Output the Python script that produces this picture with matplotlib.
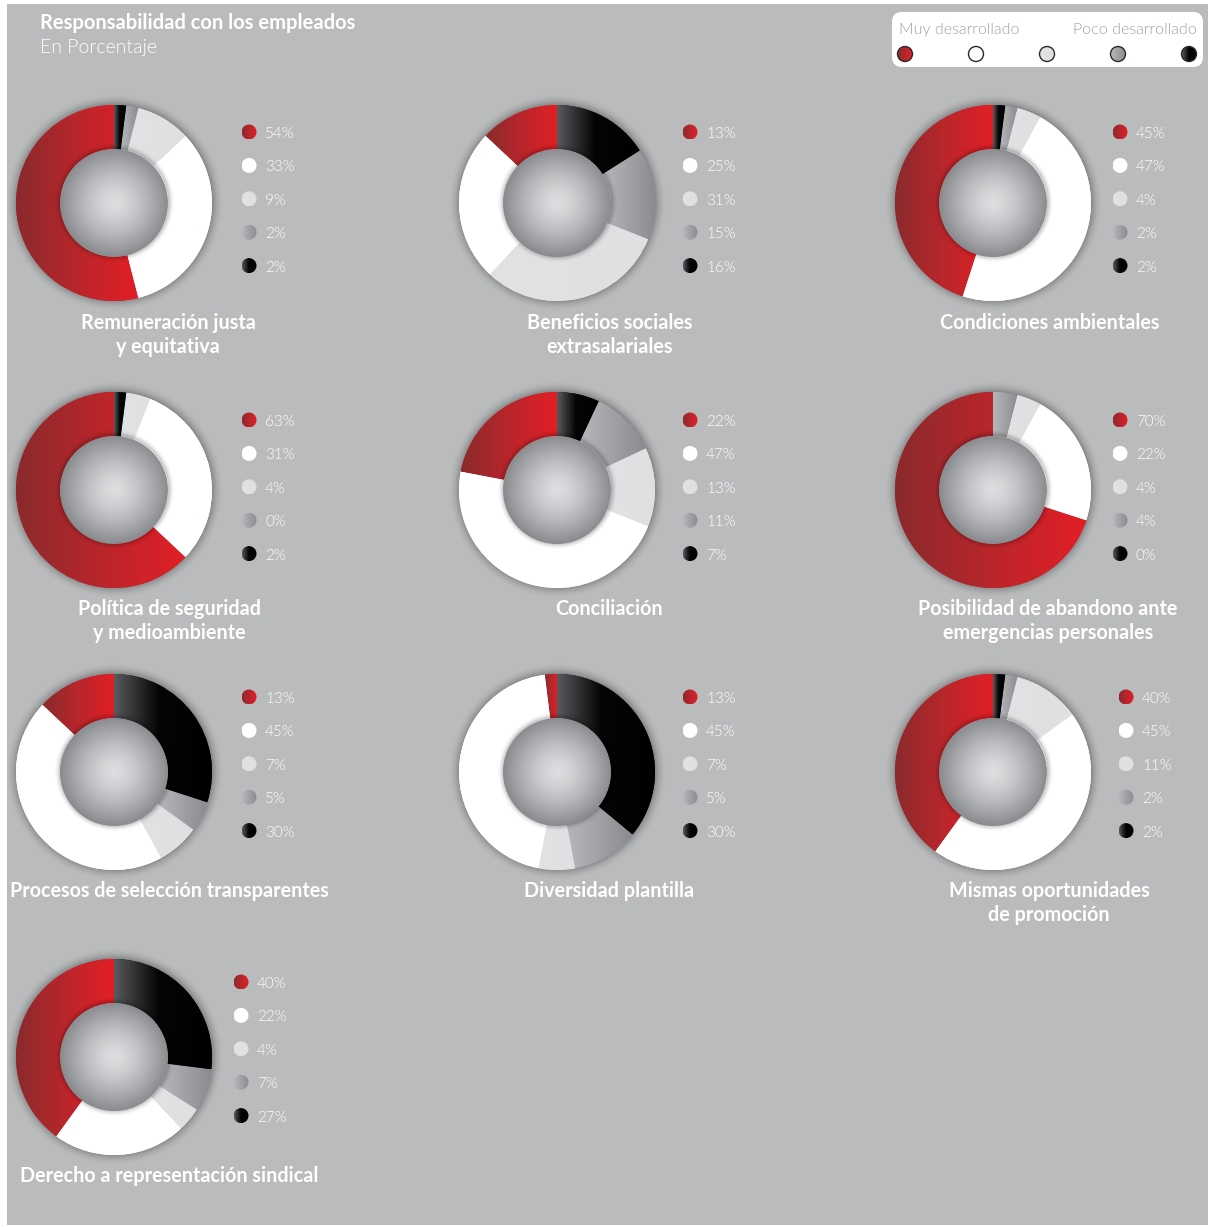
import numpy as np
import matplotlib
matplotlib.use("Agg")
import matplotlib.pyplot as plt
from matplotlib.colors import LinearSegmentedColormap
from matplotlib.patches import Circle, FancyBboxPatch, Rectangle

plt.rcParams['font.family'] = ['Lato', 'DejaVu Sans']

# ---------------- data ----------------
title = "Responsabilidad con los empleados"
subtitle = "En Porcentaje"
level_low = "Muy desarrollado"
level_high = "Poco desarrollado"

categories = [
    "Remuneración justa\ny equitativa",
    "Beneficios sociales\nextrasalariales",
    "Condiciones ambientales",
    "Política de seguridad\ny medioambiente",
    "Conciliación",
    "Posibilidad de abandono ante\nemergencias personales",
    "Procesos de selección transparentes",
    "Diversidad plantilla",
    "Mismas oportunidades\nde promoción",
    "Derecho a representación sindical",
]

# printed percentages (Muy desarrollado -> Poco desarrollado)
labels_remuneracion = [54, 33, 9, 2, 2]
labels_beneficios = [13, 25, 31, 15, 16]
labels_condiciones = [45, 47, 4, 2, 2]
labels_politica = [63, 31, 4, 0, 2]
labels_conciliacion = [22, 47, 13, 11, 7]
labels_posibilidad = [70, 22, 4, 4, 0]
labels_procesos = [13, 45, 7, 5, 30]
labels_diversidad = [13, 45, 7, 5, 30]
labels_mismas = [40, 45, 11, 2, 2]
labels_derecho = [40, 22, 4, 7, 27]

# slice sizes as drawn (Diversidad's drawn slices differ from its printed labels)
slices_diversidad = [2, 45, 6, 11, 36]

printed = [labels_remuneracion, labels_beneficios, labels_condiciones,
           labels_politica, labels_conciliacion, labels_posibilidad,
           labels_procesos, labels_diversidad, labels_mismas, labels_derecho]
drawn = [labels_remuneracion, labels_beneficios, labels_condiciones,
         labels_politica, labels_conciliacion, labels_posibilidad,
         labels_procesos, slices_diversidad, labels_mismas, labels_derecho]

# ---------------- layout (pixels) ----------------
W, H = 1208, 1227
centers = [(114, 203), (557, 203), (993, 203),
           (114, 490), (557, 490), (993, 490),
           (114, 772), (557, 772), (993, 772),
           (114, 1057)]
legend_x = [249, 690, 1120, 249, 690, 1120, 249, 690, 1126, 241]
legend_y0 = [132, 132, 132, 420, 420, 420, 697, 697, 697, 982]
title_xy = [(168, 321), (610, 321), (1050, 321),
            (169, 607), (609, 607), (1048, 607),
            (169, 889), (609, 889), (1049, 889),
            (169, 1174)]
R = 98.0
ROW = 33.4
LINE = 24
LIGHT = 300
DY = 2  # visual baseline correction for va='center'

BG = '#babbbd'
red_cmap = LinearSegmentedColormap.from_list('r', ['#8a2a2d', '#b9262b', '#e31e26'])
white_cmap = LinearSegmentedColormap.from_list('w', ['#ffffff', '#ffffff'])
light_cmap = LinearSegmentedColormap.from_list('l', ['#e1e2e4', '#dfe0e2'])
gray_cmap = LinearSegmentedColormap.from_list('g', ['#b6b7ba', '#8a8b8e'])
black_cmap = LinearSegmentedColormap.from_list('k', [(0, '#5a5b5e'), (0.45, '#050505'), (1, '#000000')])
cmaps = [red_cmap, white_cmap, light_cmap, gray_cmap, black_cmap]
base_colors = ['#c4242a', '#ffffff', '#e0e1e3', '#a0a1a4', '#101010']

grad = np.linspace(0, 1, 256).reshape(1, -1)

fig = plt.figure(figsize=(W / 100, H / 100), dpi=100)
fig.patch.set_facecolor('white')
main = fig.add_axes([0, 0, 1, 1])
main.set_axis_off()
main.add_patch(Rectangle((7, 4), W - 7, 1221, facecolor=BG, edgecolor='none', zorder=0))


def hgrad(ax, patch, cmap, z):
    ext = patch.get_path().get_extents()
    if ext.width <= 1e-9 or ext.height <= 1e-9:
        return
    im = ax.imshow(grad, extent=(ext.x0, ext.x1, ext.y0, ext.y1), cmap=cmap,
                   aspect='auto', origin='lower', interpolation='bilinear', zorder=z)
    im.set_clip_path(patch)


def cgrad(ax, x, y, r, cmap, z):
    im = ax.imshow(grad, extent=(x - r, x + r, y + r, y - r), cmap=cmap,
                   aspect='auto', origin='upper', interpolation='bilinear', zorder=z)
    clip = Circle((x, y), r, transform=ax.transData, facecolor='none', edgecolor='none')
    im.set_clip_path(clip)


# header
main.text(40, 21 + DY, title, color='white', fontsize=14.5, fontweight='bold', va='center', ha='left')
main.text(40, 45 + DY, subtitle, color='white', fontsize=14, fontweight=LIGHT, va='center', ha='left')

# legend box
main.add_patch(FancyBboxPatch((892, 12), 311, 55, boxstyle='round,pad=0,rounding_size=10',
                              facecolor='white', edgecolor='none', zorder=2))
main.text(899, 28 + DY, level_low, color='#a59e9c', fontsize=11.5, fontweight=LIGHT, va='center', ha='left', zorder=3)
main.text(1197, 28 + DY, level_high, color='#a59e9c', fontsize=11.5, fontweight=LIGHT, va='center', ha='right', zorder=3)
for i, x in enumerate([905, 976, 1047, 1118, 1189]):
    cgrad(main, x, 54, 7.5, cmaps[i], 3.5)
    main.add_patch(Circle((x, 54), 7.5, facecolor='none', edgecolor='#2a2a2a', lw=1.0, zorder=4))

# shadow/sphere images (shared)
N = 400
L = 1.3
xs = np.linspace(-L, L, N)
XX, YY = np.meshgrid(xs, xs)
RR = np.hypot(XX, YY)
halo = np.zeros((N, N, 4))
a = np.clip(1 - (RR - 0.99) / 0.13, 0, 1) ** 2 * 0.32
a[RR < 0.99] = 0
halo[..., 3] = a

inner_sh = np.zeros((N, N, 4))
b = np.clip(1 - (RR - 0.55) / 0.07, 0, 1) ** 2 * 0.28
b[RR < 0.55] = 0
inner_sh[..., 3] = b

c_center = np.array([0xdd, 0xde, 0xe0]) / 255
c_edge = np.array([0x8a, 0x8b, 0x8e]) / 255
t = np.clip(RR / 0.55, 0, 1) ** 1.4
sphere = np.ones((N, N, 4))
sphere[..., :3] = c_center[None, None, :] * (1 - t[..., None]) + c_edge[None, None, :] * t[..., None]

for k in range(10):
    cx, cy = centers[k]
    hp = L * R
    ax = fig.add_axes([(cx - hp) / W, 1 - (cy + hp) / H, 2 * hp / W, 2 * hp / H])
    ax.set_axis_off()
    ax.patch.set_alpha(0)
    ax.imshow(halo, extent=(-L, L, -L, L), origin='lower', zorder=0.5, interpolation='bilinear')
    wedges, _ = ax.pie(drawn[k], startangle=90, counterclock=True, radius=1.0,
                       colors=base_colors, wedgeprops=dict(width=0.45, linewidth=0))
    for i, w in enumerate(wedges):
        w.set_zorder(1)
        if drawn[k][i] > 0:
            hgrad(ax, w, cmaps[i], 1.5)
    ax.imshow(inner_sh, extent=(-L, L, -L, L), origin='lower', zorder=2, interpolation='bilinear')
    sim = ax.imshow(sphere, extent=(-L, L, -L, L), origin='lower', zorder=3, interpolation='bilinear')
    clip = Circle((0, 0), 0.55, transform=ax.transData, facecolor='none', edgecolor='none')
    ax.add_patch(clip)
    sim.set_clip_path(clip)
    ax.set_xlim(-L, L)
    ax.set_ylim(-L, L)

    # legend dots with percentages
    lx = legend_x[k]
    for i in range(5):
        y = legend_y0[k] + i * ROW
        cgrad(main, lx, y, 7.5, cmaps[i], 3.5)
        main.text(lx + 16, y + DY, f"{printed[k][i]}%", color='white', fontsize=11,
                  fontweight=LIGHT, va='center', ha='left', zorder=4)

    # title
    tx, ty = title_xy[k]
    for j, line in enumerate(categories[k].split('\n')):
        main.text(tx, ty + j * LINE + DY, line, color='white', fontsize=14.2, fontweight='bold',
                  va='center', ha='center', zorder=4)

main.set_xlim(0, W)
main.set_ylim(H, 0)
fig.savefig('out.png', dpi=100, facecolor='white')
